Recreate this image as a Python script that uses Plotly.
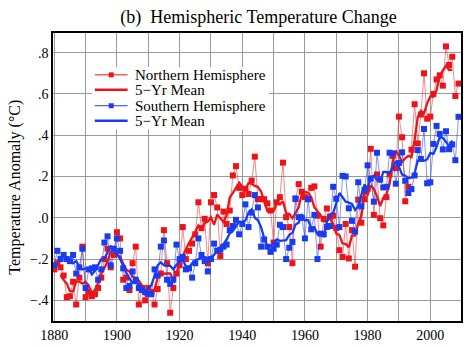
import pandas as pd
import plotly.graph_objects as go

years = list(range(1880, 2010))

nh = [-0.25, -0.22, -0.24, -0.28, -0.385, -0.38, -0.31, -0.42, -0.29, -0.14,
      -0.385, -0.36, -0.38, -0.37, -0.34, -0.29, -0.20, -0.15, -0.24, -0.18,
      -0.07, -0.10, -0.30, -0.29, -0.35, -0.22, -0.14, -0.42, -0.34, -0.40,
      -0.34, -0.36, -0.42, -0.345, -0.27, -0.06, -0.22, -0.46, -0.34, -0.27,
      -0.23, -0.045, -0.20, -0.16, -0.125, -0.08, 0.075, -0.05, -0.005, -0.22,
      0.075, 0.11, 0.05, -0.185, 0.03, -0.03, 0.035, 0.205, 0.25, 0.145,
      0.11, 0.14, 0.115, 0.18, 0.296, 0.09, 0.09, 0.09, 0.07, 0.035,
      -0.12, 0.075, 0.10, 0.267, 0.003, -0.045, -0.22, 0.09, 0.163, 0.126,
      0.10, 0.09, 0.145, 0.152, 0.01, -0.14, -0.005, 0.045, 0.005, 0.01,
      -0.05, -0.157, -0.19, -0.03, -0.197, -0.06, -0.237, 0.088, -0.024, 0.09,
      0.14, 0.334, 0.014, 0.21, -0.002, -0.037, 0.10, 0.21, 0.30, 0.24,
      0.49, 0.39, 0.08, 0.15, 0.33, 0.55, 0.36, 0.50, 0.70, 0.48,
      0.49, 0.60, 0.67, 0.69, 0.64, 0.83, 0.74, 0.78, 0.59, 0.65]

sh = [-0.23, -0.16, -0.20, -0.18, -0.20, -0.21, -0.18, -0.27, -0.24, -0.15,
      -0.34, -0.25, -0.245, -0.24, -0.30, -0.25, -0.12, -0.09, -0.23, -0.15,
      -0.10, -0.16, -0.245, -0.34, -0.33, -0.26, -0.30, -0.34, -0.35, -0.36,
      -0.37, -0.37, -0.25, -0.28, -0.14, -0.11, -0.30, -0.32, -0.30, -0.13,
      -0.20, -0.19, -0.25, -0.245, -0.29, -0.22, -0.10, -0.18, -0.21, -0.26,
      -0.20, -0.125, -0.16, -0.155, -0.14, -0.13, -0.06, -0.04, -0.01, -0.08,
      -0.03, 0.065, -0.045, 0.025, 0.11, 0.05, -0.14, -0.105, -0.14, -0.165,
      -0.15, -0.13, -0.034, -0.045, -0.20, -0.145, -0.117, 0.094, 0.003, 0.0,
      -0.10, 0.09, -0.056, 0.014, -0.20, -0.077, -0.08, -0.045, -0.04, 0.15,
      0.092, -0.045, 0.203, 0.20, 0.046, -0.015, -0.067, 0.172, 0.055, 0.135,
      0.254, 0.19, 0.078, 0.315, 0.185, 0.147, 0.15, 0.315, 0.312, 0.165,
      0.265, 0.317, 0.179, 0.12, 0.139, 0.205, 0.328, 0.285, 0.43, 0.167,
      0.172, 0.358, 0.445, 0.406, 0.331, 0.419, 0.332, 0.355, 0.279, 0.489]

x_tickvals = list(range(1880, 2010, 10))
x_ticktext = [str(v) if v % 20 == 0 else "" for v in x_tickvals]
y_tickvals = [-0.4, -0.2, 0.0, 0.2, 0.4, 0.6, 0.8]
y_ticktext = ["\u2212.4", "\u2212.2", ".0", ".2", ".4", ".6", ".8"]

legend_labels = ["Northern Hemisphere", "5\u2212Yr Mean", "Southern Hemisphere", "5\u2212Yr Mean"]

nh_mean = pd.Series(nh).rolling(5, center=True).mean().tolist()
sh_mean = pd.Series(sh).rolling(5, center=True).mean().tolist()

RED = "#ec1418"
BLUE = "#1a3cf0"
RED_THIN = "rgba(240,40,40,0.55)"
BLUE_THIN = "rgba(30,60,240,0.55)"
FONT = "Liberation Serif"

fig = go.Figure()
fig.add_trace(go.Scatter(x=years, y=nh, mode="lines+markers",
                         line=dict(color=RED_THIN, width=1),
                         marker=dict(symbol="square", size=6, color=RED),
                         name=legend_labels[0]))
fig.add_trace(go.Scatter(x=years, y=nh_mean, mode="lines",
                         line=dict(color=RED, width=2.3), name=legend_labels[1]))
fig.add_trace(go.Scatter(x=years, y=sh, mode="lines+markers",
                         line=dict(color=BLUE_THIN, width=1),
                         marker=dict(symbol="square", size=6, color=BLUE),
                         name=legend_labels[2]))
fig.add_trace(go.Scatter(x=years, y=sh_mean, mode="lines",
                         line=dict(color=BLUE, width=2.3), name=legend_labels[3]))

# plot area geometry (pixels) for the hand-drawn legend
L, T, W, H = 53, 33, 410, 289
def px(xp):
    return (xp - L) / W
def py(yp):
    return (T + H - yp) / H

shapes = []
annotations = []
shapes.append(dict(type="rect", xref="paper", yref="paper",
                   x0=px(92), x1=px(270), y0=py(130), y1=py(67),
                   fillcolor="white", line=dict(width=0), layer="above"))
rows = [75, 90, 106, 121]
colors = [RED, RED, BLUE, BLUE]
for i, (ry, c, lab) in enumerate(zip(rows, colors, legend_labels)):
    thin = (i % 2 == 0)
    shapes.append(dict(type="line", xref="paper", yref="paper",
                       x0=px(95), x1=px(128), y0=py(ry), y1=py(ry),
                       line=dict(color=c, width=1 if thin else 2.5), layer="above"))
    if thin:
        shapes.append(dict(type="rect", xref="paper", yref="paper",
                           x0=px(109), x1=px(114), y0=py(ry + 2.5), y1=py(ry - 2.5),
                           fillcolor=c, line=dict(width=0), layer="above"))
    annotations.append(dict(text=lab, xref="paper", yref="paper",
                            x=px(133), y=py(ry), xanchor="left", yanchor="middle",
                            showarrow=False, font=dict(family=FONT, size=15, color="black")))

annotations.append(dict(text="Temperature Anomaly (\u00b0C)", xref="paper", yref="paper",
                        x=px(15), y=py(188), textangle=-90, xanchor="center", yanchor="middle",
                        showarrow=False, font=dict(family=FONT, size=16, color="black")))

fig.update_layout(
    width=467, height=347,
    margin=dict(l=L, r=467 - L - W, t=T, b=347 - T - H),
    paper_bgcolor="white", plot_bgcolor="white",
    showlegend=False,
    font=dict(family=FONT, size=14, color="black"),
    title=dict(text="(b)\u00a0 Hemispheric Temperature Change", xref="container", yref="container",
               x=258.5 / 467, y=1 - 17 / 347, xanchor="center", yanchor="middle",
               font=dict(family=FONT, size=18, color="black")),
    shapes=shapes, annotations=annotations,
)
fig.update_xaxes(range=[1879.6, 2009.8], tickvals=x_tickvals, ticktext=x_ticktext,
                 showgrid=True, gridcolor="#9a9a9a", gridwidth=1,
                 showline=True, linecolor="black", linewidth=1.5, mirror=True,
                 zeroline=False, ticks="", tickfont=dict(family=FONT, size=14))
fig.update_yaxes(range=[-0.5, 0.895], tickvals=y_tickvals, ticktext=y_ticktext,
                 showgrid=True, gridcolor="#9a9a9a", gridwidth=1,
                 showline=True, linecolor="black", linewidth=1.5, mirror=True,
                 zeroline=False, ticks="", tickfont=dict(family=FONT, size=14))

fig.write_html("out.html")
